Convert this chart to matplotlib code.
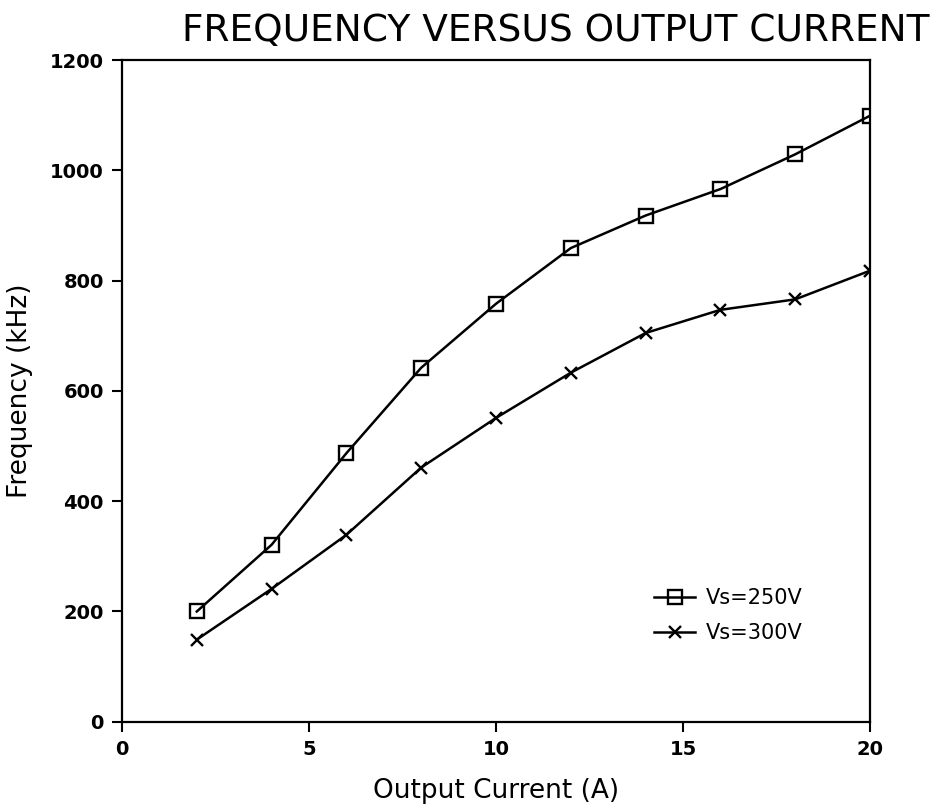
import matplotlib.pyplot as plt

# Output current (A)
current = [2, 4, 6, 8, 10, 12, 14, 16, 18, 20]

# Frequency (kHz) for each supply voltage
freq_250 = [200, 321, 487, 642, 758, 859, 918, 966, 1029, 1099]
freq_300 = [149, 241, 339, 461, 551, 633, 705, 747, 766, 818]

labels = ['Vs=250V', 'Vs=300V']

fig = plt.figure(figsize=(9.34, 8.11), dpi=100)
ax = fig.add_axes([0.1306, 0.110, 0.8009, 0.816])

ax.plot(current, freq_250, color='black', lw=1.8, marker='s', ms=10,
        mfc='none', mec='black', mew=1.7, label=labels[0])
ax.plot(current, freq_300, color='black', lw=1.8, marker='x', ms=9,
        mew=1.7, label=labels[1])

ax.set_xlim(0, 20)
ax.set_ylim(0, 1200)
ax.set_xticks([0, 5, 10, 15, 20])
ax.set_yticks(range(0, 1201, 200))
ax.tick_params(direction='out', length=7, width=1.5, labelsize=14, pad=6)
for lbl in ax.get_xticklabels() + ax.get_yticklabels():
    lbl.set_fontweight('bold')
for s in ax.spines.values():
    s.set_linewidth(1.6)

ax.set_xlabel('Output Current (A)', fontsize=19, labelpad=14)
ax.set_ylabel('Frequency (kHz)', fontsize=19, labelpad=12)

fig.text(0.595, 0.962, 'FREQUENCY VERSUS OUTPUT CURRENT', fontsize=27,
         ha='center', va='center')

ax.legend(loc='lower right', bbox_to_anchor=(0.935, 0.09), frameon=False,
          fontsize=15, handlelength=2.0, handletextpad=0.5, labelspacing=0.75)

fig.savefig('out.png', dpi=100)
